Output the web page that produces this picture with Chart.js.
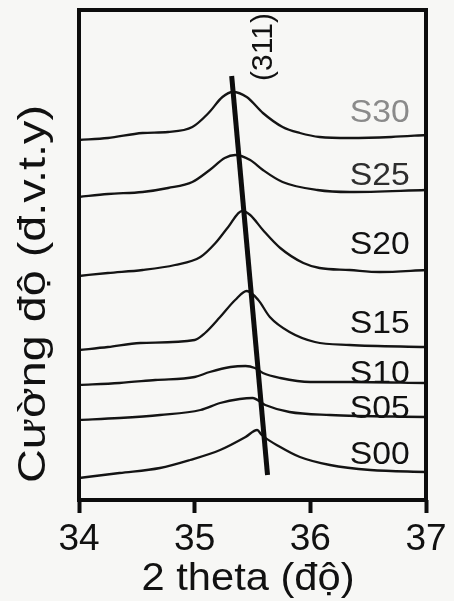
<!DOCTYPE html>
<html>
<head>
<meta charset="utf-8">
<script src="https://cdn.jsdelivr.net/npm/chart.js@4/dist/chart.umd.min.js"></script>
<style>
  html, body { margin: 0; padding: 0; background: #f7f7f5; }
  #wrap { width: 454px; height: 601px; }
</style>
</head>
<body>
<div id="wrap"><canvas id="xrd" width="454" height="601"></canvas></div>
<script>
// XRD (311) reflection, stacked patterns, intensity in arbitrary units (offset per sample)
const sampleNames = ['S30', 'S25', 'S20', 'S15', 'S10', 'S05', 'S00'];

const thetaS30 = [34.0, 34.25, 34.55, 34.77, 34.98, 35.12, 35.24, 35.33, 35.45, 35.59, 35.76, 35.91, 36.08, 36.34, 36.7, 37.0];
const intS30   = [360, 362, 367, 368, 373, 387, 403, 408, 403, 387, 373, 367, 363, 362, 363, 365];

const thetaS25 = [34.0, 34.25, 34.55, 34.77, 34.98, 35.13, 35.26, 35.35, 35.48, 35.59, 35.76, 36.06, 36.34, 37.0];
const intS25   = [303, 306, 308, 312, 318, 330, 342, 345, 340, 330, 318, 310, 308, 310];

const thetaS20 = [34.0, 34.25, 34.55, 34.83, 35.05, 35.18, 35.29, 35.41, 35.48, 35.59, 35.74, 35.94, 36.08, 36.34, 36.6, 37.0];
const intS20   = [224, 227, 230, 235, 243, 257, 273, 289, 285, 270, 252, 237, 232, 230, 228, 230];

const thetaS15 = [34.0, 34.25, 34.53, 35.0, 35.09, 35.22, 35.35, 35.45, 35.55, 35.65, 35.82, 36.04, 36.34, 37.0];
const intS15   = [150, 153, 157, 160, 167, 183, 200, 209, 200, 183, 168, 158, 155, 153];

const thetaS10 = [34.0, 34.35, 34.66, 35.0, 35.13, 35.31, 35.44, 35.52, 35.59, 35.74, 36.0, 36.34, 37.0];
const intS10   = [115, 117, 120, 123, 128, 133, 134, 132, 127, 122, 118, 118, 117];

const thetaS05 = [34.0, 34.35, 34.70, 35.05, 35.22, 35.39, 35.50, 35.61, 35.82, 36.17, 37.0];
const intS05   = [80, 82, 85, 90, 97, 101, 102, 95, 88, 85, 83];

const thetaS00 = [34.0, 34.35, 34.70, 34.96, 35.22, 35.44, 35.54, 35.58, 35.74, 35.91, 36.17, 36.52, 37.0];
const intS00   = [22, 27, 32, 40, 50, 63, 70, 65, 53, 43, 35, 30, 28];

// guide line following the (311) peak shift
const peakGuideTheta = [35.32, 35.63];
const peakGuideInt   = [424, 25];

// sample label anchors (x in 2θ, y in a.u.)
const labelTheta = 36.6;
const labelInt   = [378, 315, 246, 167, 117, 82, 36];
const labelColors = ['#8a8a8a', '#2e2e2e', '#111111', '#111111', '#111111', '#111111', '#111111'];

const xTicks = [34, 35, 36, 37];

const thetaSets = [thetaS30, thetaS25, thetaS20, thetaS15, thetaS10, thetaS05, thetaS00];
const intSets   = [intS30, intS25, intS20, intS15, intS10, intS05, intS00];

const toPoints = (xs, ys) => xs.map((x, i) => ({ x: x, y: ys[i] }));

const datasets = [{
  label: '(311)',
  data: toPoints(peakGuideTheta, peakGuideInt),
  borderColor: '#0d0d0d',
  borderWidth: 5,
  pointRadius: 0,
  tension: 0
}];
sampleNames.forEach((name, i) => {
  datasets.push({
    label: name,
    data: toPoints(thetaSets[i], intSets[i]),
    borderColor: '#141414',
    borderWidth: 2.3,
    pointRadius: 0,
    cubicInterpolationMode: 'monotone'
  });
});

const FONT = '"Liberation Sans", Arial, Helvetica, sans-serif';

// draws text centred on (cx, baseline) and stretched along its length to a given width
function stretchedText(ctx, text, cx, by, size, targetW, rot, color) {
  ctx.save();
  ctx.translate(cx, by);
  ctx.rotate(rot);
  ctx.font = size + 'px ' + FONT;
  const w = ctx.measureText(text).width;
  if (targetW) ctx.scale(targetW / w, 1);
  ctx.fillStyle = color;
  ctx.textAlign = 'center';
  ctx.textBaseline = 'alphabetic';
  ctx.fillText(text, 0, 0);
  ctx.restore();
}

const decor = {
  id: 'decor',
  beforeDraw(chart) {
    const ctx = chart.ctx;
    ctx.save();
    ctx.fillStyle = '#f7f7f5';
    ctx.fillRect(0, 0, chart.width, chart.height);
    ctx.restore();
  },
  afterDatasetsDraw(chart) {
    const { ctx, chartArea: a } = chart;
    ctx.save();
    ctx.strokeStyle = '#0d0d0d';
    ctx.lineWidth = 4;
    ctx.strokeRect(a.left, a.top, a.right - a.left, a.bottom - a.top);
    ctx.restore();
  },
  afterDraw(chart) {
    const { ctx, scales: { x, y } } = chart;
    // sample names
    sampleNames.forEach((name, i) => {
      stretchedText(ctx, name, x.getPixelForValue(labelTheta), y.getPixelForValue(labelInt[i]), 32, 60, 0, labelColors[i]);
    });
    // reflection index next to the guide line
    stretchedText(ctx, '(311)', 272, 47, 30, 0, -Math.PI / 2, '#111111');
    // axis titles
    stretchedText(ctx, '2 theta (độ)', 248, 590, 38, 213, 0, '#111111');
    stretchedText(ctx, 'Cường độ (đ.v.t.y)', 45, 294, 38, 378, -Math.PI / 2, '#111111');
  }
};

new Chart(document.getElementById('xrd'), {
  type: 'line',
  data: { datasets: datasets },
  options: {
    responsive: false,
    animation: false,
    events: [],
    layout: { padding: { left: 79, right: 28, top: 10, bottom: 33.6 } },
    plugins: { legend: { display: false }, tooltip: { enabled: false } },
    scales: {
      x: {
        type: 'linear',
        min: 34,
        max: 37,
        afterBuildTicks: (s) => { s.ticks = xTicks.map(v => ({ value: v })); },
        border: { display: false },
        grid: {
          drawOnChartArea: false,
          drawTicks: true,
          tickLength: 13,
          tickWidth: 4,
          tickColor: '#0d0d0d'
        },
        ticks: {
          padding: 5,
          color: '#111111',
          font: { family: FONT, size: 37 },
          maxRotation: 0,
          callback: (v) => String(v)
        },
        title: { display: false }
      },
      y: {
        display: false,
        min: 0,
        max: 490
      }
    }
  },
  plugins: [decor]
});
</script>
</body>
</html>
